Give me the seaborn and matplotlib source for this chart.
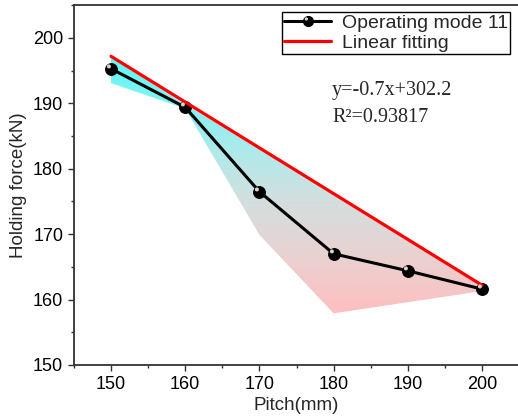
import numpy as np
import pandas as pd
import matplotlib
matplotlib.use("Agg")
import matplotlib.pyplot as plt
from matplotlib.patches import Polygon
from matplotlib.path import Path
from matplotlib.lines import Line2D
from matplotlib.ticker import MultipleLocator
from matplotlib.legend_handler import HandlerTuple
import seaborn as sns

# Measured holding force per pitch
pitch = [150, 160, 170, 180, 190, 200]
holding_force = [195.3, 189.4, 176.5, 167.0, 164.4, 161.6]

# Linear fit as reported
fit_slope = -0.7
fit_intercept = 302.2
fit_r2 = "0.93817"

# Shaded band around the measurements
band_upper = [197.1, 189.8, 183.1, 176.2, 169.3, 162.3]
band_lower = [193.1, 189.2, 169.9, 157.9, 159.6, 161.3]

x_ticks = [150, 160, 170, 180, 190, 200]
y_ticks = [150, 160, 170, 180, 190, 200]

sns.set_theme(style="ticks")
plt.rcParams["font.family"] = ["Liberation Sans", "DejaVu Sans"]

fig = plt.figure(figsize=(5.18, 4.2), dpi=100)
ax = fig.add_axes([0.1427, 0.131, 0.8595, 0.8564])

# gradient fill clipped to the band polygon
poly_pts = list(zip(pitch, band_upper)) + list(zip(pitch[::-1], band_lower[::-1]))
band = Polygon(poly_pts, closed=True, facecolor="none", edgecolor="none",
               transform=ax.transData)
ax.add_patch(band)
stops_y = np.array([157.5, 168.0, 175.0, 182.0, 190.0, 197.5])
stops_c = np.array([
    [255, 190, 190],
    [230, 212, 212],
    [212, 222, 222],
    [178, 233, 233],
    [130, 242, 242],
    [ 95, 248, 248],
]) / 255.0
ys = np.linspace(157.5, 197.5, 300)
grad = np.stack([np.interp(ys, stops_y, stops_c[:, k]) for k in range(3)], axis=-1)
img = grad[:, None, :].repeat(2, axis=1)
im = ax.imshow(img, extent=[148, 202, 157.5, 197.5], origin="lower",
               aspect="auto", zorder=1, interpolation="bilinear")
im.set_clip_path(band)

df = pd.DataFrame({"Pitch": pitch, "Force": holding_force})
sns.lineplot(data=df, x="Pitch", y="Force", ax=ax, color="black", linewidth=2.2,
             marker="o", markersize=8.5, markerfacecolor="black",
             markeredgecolor="black", zorder=3)

fit_x = np.array([pitch[0], pitch[-1]])
fit_df = pd.DataFrame({"Pitch": fit_x, "Fit": fit_slope * fit_x + fit_intercept})
sns.lineplot(data=fit_df, x="Pitch", y="Fit", ax=ax, color="#ff0000",
             linewidth=2.3, zorder=4)

# specular highlight on the ball markers: a small disc offset up-left,
# balanced by an empty move so the marker stays centred on the point
hl_circle = Path.circle(center=(-0.22, 0.26), radius=0.17)
anchor = Path([(0.5, -0.5), (0.5, -0.5)], [Path.MOVETO, Path.MOVETO])
hl_marker = Path.make_compound_path(anchor, hl_circle)
ax.plot(pitch, holding_force, linestyle="none", marker=hl_marker, markersize=8.5,
        markerfacecolor="#d4d4d4", markeredgecolor="none", zorder=5)

ax.set_xlim(145, 205)
ax.set_ylim(150, 205)
ax.set_xticks(x_ticks)
ax.set_yticks(y_ticks)
ax.xaxis.set_minor_locator(MultipleLocator(5))
ax.yaxis.set_minor_locator(MultipleLocator(5))
ax.tick_params(axis="both", which="major", direction="out", length=4.2, width=1.0,
               labelsize=13, pad=3.5, colors="#333333", labelcolor="black")
ax.tick_params(axis="both", which="minor", direction="out", length=2.3, width=1.0,
               colors="#333333")
ax.tick_params(top=False, right=False, which="both")

for side in ["left", "bottom", "top"]:
    ax.spines[side].set_visible(True)
    ax.spines[side].set_color("#333333")
    ax.spines[side].set_linewidth(1.3)
ax.spines["right"].set_visible(False)

ax.set_xlabel("Pitch(mm)", fontsize=13.5, labelpad=3)
ax.set_ylabel("Holding force(kN)", fontsize=13.5, labelpad=4)

# legend
h_line = Line2D([], [], color="black", linewidth=2.2, marker="o", markersize=7,
                markerfacecolor="black", markeredgecolor="black")
h_hl = Line2D([], [], linestyle="none", marker=hl_marker, markersize=7,
              markerfacecolor="#d4d4d4", markeredgecolor="none")
h_fit = Line2D([], [], color="#ff0000", linewidth=2.3)
leg = ax.legend([(h_line, h_hl), h_fit], ["Operating mode 11", "Linear fitting"],
                handler_map={tuple: HandlerTuple(ndivide=1, pad=0)},
                loc="upper left", bbox_to_anchor=(282 / 518, 1 - 12 / 420),
                bbox_transform=fig.transFigure, fontsize=14, frameon=True,
                fancybox=False, edgecolor="black", framealpha=1,
                borderpad=0.12, borderaxespad=0, handlelength=2.4,
                handletextpad=0.55, labelspacing=0.1)
leg.get_frame().set_linewidth(1.0)

# fit equation
serif = ["Liberation Serif", "DejaVu Serif"]
ax.text(332 / 518, 1 - 90 / 420, f"y={fit_slope}x+{fit_intercept}",
        transform=fig.transFigure, family=serif,
        fontsize=14.5, va="center", ha="left")
ax.text(332 / 518, 1 - 118 / 420, f"R\u00b2={fit_r2}",
        transform=fig.transFigure, family=serif,
        fontsize=14.5, va="center", ha="left")

fig.savefig("out.png", dpi=100)
